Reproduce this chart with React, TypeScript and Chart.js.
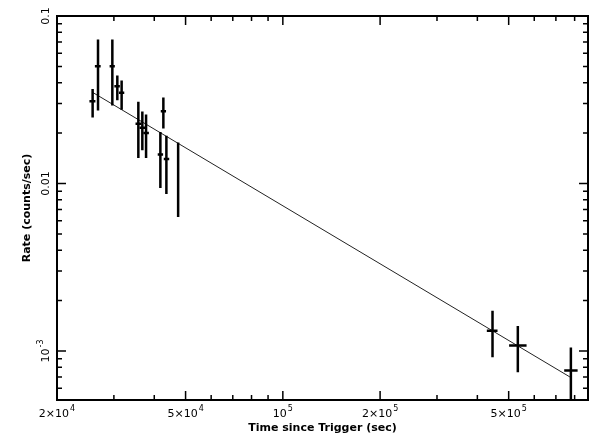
import React, { useEffect, useRef } from 'react';
import { Chart, registerables } from 'chart.js';

Chart.register(...registerables);

// Observations (time since trigger, sec) with horizontal error extents
const times = [25780, 26790, 29670, 30740, 31700, 35710, 36740, 37730, 41780, 42680, 43610, 47420, 445600, 533700, 778900];
const timeLo = [25200, 26200, 29100, 30100, 31100, 35000, 36000, 37000, 41000, 41900, 42800, 47000, 427900, 501500, 742700];
const timeHi = [26300, 27300, 30200, 31300, 32300, 36400, 37500, 38500, 42600, 43500, 44500, 47800, 461800, 568000, 817200];

// Count rates (counts/sec) with vertical error extents
const rates = [0.031, 0.0501, 0.0501, 0.0381, 0.0348, 0.0227, 0.0215, 0.02, 0.0149, 0.027, 0.014, 0.012, 0.00132, 0.00108, 0.000764];
const rateLo = [0.0248, 0.0273, 0.0292, 0.0314, 0.0276, 0.0142, 0.0158, 0.0142, 0.0094, 0.0213, 0.00866, 0.00631, 0.000918, 0.000746, 0.00045];
const rateHi = [0.0367, 0.0724, 0.0724, 0.0441, 0.0412, 0.0308, 0.0269, 0.0258, 0.0203, 0.0326, 0.0193, 0.0176, 0.00174, 0.00141, 0.00105];

// Power-law fit endpoints
const fitTimes = [25780, 773500];
const fitRates = [0.035, 0.0007];

// Axes
const X_MIN = 20000;
const X_MAX = 880000;
const Y_MIN = 0.00051;
const Y_MAX = 0.1;
const xTickValues = [20000, 50000, 100000, 200000, 500000];
const xTickLabels = ['2×10^4', '5×10^4', '10^5', '2×10^5', '5×10^5'];
const xMinorTicks = [30000, 40000, 60000, 70000, 80000, 90000, 300000, 400000, 600000, 700000, 800000];
const yTickValues = [0.1, 0.01, 0.001];
const yTickLabels = ['0.1', '0.01', '10^-3'];
const yMinorTicks = [0.09, 0.08, 0.07, 0.06, 0.05, 0.04, 0.03, 0.02, 0.009, 0.008, 0.007, 0.006, 0.005, 0.004, 0.003, 0.002, 0.0009, 0.0008, 0.0007, 0.0006];

const xTitle = 'Time since Trigger (sec)';
const yTitle = 'Rate (counts/sec)';

const FONT = '"DejaVu Sans", "Liberation Sans", sans-serif';

function drawLabel(ctx: any, text: string, cx: number, cy: number, rotate: boolean) {
  const [base, sup] = text.split('^');
  ctx.save();
  ctx.translate(cx, cy);
  if (rotate) ctx.rotate(-Math.PI / 2);
  ctx.font = `11px ${FONT}`;
  const wb = ctx.measureText(base).width;
  let ws = 0;
  if (sup) {
    ctx.font = `8px ${FONT}`;
    ws = ctx.measureText(sup).width + 1;
  }
  const start = -(wb + ws) / 2;
  ctx.textAlign = 'left';
  ctx.textBaseline = 'middle';
  ctx.font = `11px ${FONT}`;
  ctx.fillText(base, start, 0);
  if (sup) {
    ctx.font = `8px ${FONT}`;
    ctx.fillText(sup, start + wb + 1, -5);
  }
  ctx.restore();
}

const framePlugin = {
  id: 'framePlugin',
  afterDatasetsDraw(chart: any) {
    const { ctx, chartArea } = chart;
    const xs = chart.scales.x;
    const ys = chart.scales.y;
    const { left, right, top, bottom } = chartArea;

    // Error bars
    ctx.save();
    ctx.beginPath();
    ctx.rect(left, top, right - left, bottom - top);
    ctx.clip();
    ctx.strokeStyle = '#000';
    ctx.lineWidth = 2.5;
    ctx.lineCap = 'butt';
    for (let i = 0; i < times.length; i++) {
      const px = xs.getPixelForValue(times[i]);
      const py = ys.getPixelForValue(rates[i]);
      ctx.beginPath();
      ctx.moveTo(px, ys.getPixelForValue(rateLo[i]));
      ctx.lineTo(px, ys.getPixelForValue(rateHi[i]));
      ctx.moveTo(xs.getPixelForValue(timeLo[i]), py);
      ctx.lineTo(xs.getPixelForValue(timeHi[i]), py);
      ctx.stroke();
    }
    ctx.restore();

    // Frame
    ctx.save();
    ctx.strokeStyle = '#000';
    ctx.lineWidth = 2;
    ctx.strokeRect(left, top, right - left, bottom - top);

    // Ticks (inward, all four sides)
    const MAJ = 9;
    const MIN = 5;
    ctx.lineWidth = 1.5;
    ctx.beginPath();
    const xt = (v: number, len: number) => {
      const p = xs.getPixelForValue(v);
      ctx.moveTo(p, bottom);
      ctx.lineTo(p, bottom - len);
      ctx.moveTo(p, top);
      ctx.lineTo(p, top + len);
    };
    const yt = (v: number, len: number) => {
      const p = ys.getPixelForValue(v);
      ctx.moveTo(left, p);
      ctx.lineTo(left + len, p);
      ctx.moveTo(right, p);
      ctx.lineTo(right - len, p);
    };
    xTickValues.forEach((v) => xt(v, MAJ));
    xMinorTicks.forEach((v) => xt(v, MIN));
    yTickValues.forEach((v) => yt(v, MAJ));
    yMinorTicks.forEach((v) => yt(v, MIN));
    ctx.stroke();

    // Tick labels
    ctx.fillStyle = '#000';
    xTickValues.forEach((v, i) => {
      drawLabel(ctx, xTickLabels[i], xs.getPixelForValue(v), bottom + 14, false);
    });
    yTickValues.forEach((v, i) => {
      drawLabel(ctx, yTickLabels[i], left - 11, ys.getPixelForValue(v), true);
    });
    ctx.restore();
  },
};

export default function App() {
  const ref = useRef<HTMLCanvasElement | null>(null);

  useEffect(() => {
    if (!ref.current) return;
    const chart = new Chart(ref.current, {
      type: 'scatter',
      data: {
        datasets: [
          {
            label: 'data',
            data: times.map((t, i) => ({ x: t, y: rates[i] })),
            pointRadius: 0,
            showLine: false,
          },
          {
            label: 'fit',
            data: fitTimes.map((t, i) => ({ x: t, y: fitRates[i] })),
            showLine: true,
            borderColor: '#222',
            borderWidth: 1,
            pointRadius: 0,
            fill: false,
          },
        ],
      },
      options: {
        animation: false,
        responsive: false,
        maintainAspectRatio: false,
        layout: { padding: { top: 16, right: 16, left: 0, bottom: 0 } },
        plugins: {
          legend: { display: false },
          tooltip: { enabled: false },
        },
        scales: {
          x: {
            type: 'logarithmic',
            min: X_MIN,
            max: X_MAX,
            afterBuildTicks: (scale: any) => {
              scale.ticks = xTickValues.map((v) => ({ value: v }));
            },
            afterFit: (scale: any) => {
              scale.height = 42;
            },
            grid: { display: false, drawTicks: false },
            border: { display: false },
            ticks: { display: false },
            title: {
              display: true,
              text: xTitle,
              color: '#000',
              font: { family: FONT, size: 11, weight: 'bold' },
              padding: { top: 0, bottom: 7 },
            },
          },
          y: {
            type: 'logarithmic',
            min: Y_MIN,
            max: Y_MAX,
            afterFit: (scale: any) => {
              scale.width = 57;
            },
            grid: { display: false, drawTicks: false },
            border: { display: false },
            ticks: { display: false },
            title: {
              display: true,
              text: yTitle,
              color: '#000',
              font: { family: FONT, size: 11, weight: 'bold' },
              padding: { top: 21, bottom: 0 },
            },
          },
        },
      },
      plugins: [framePlugin],
    } as any);
    return () => chart.destroy();
  }, []);

  return (
    <div style={{ position: 'fixed', left: 0, top: 0, width: 604, height: 442, background: '#fff' }}>
      <canvas ref={ref} width={604} height={442} style={{ width: 604, height: 442 }} />
    </div>
  );
}
